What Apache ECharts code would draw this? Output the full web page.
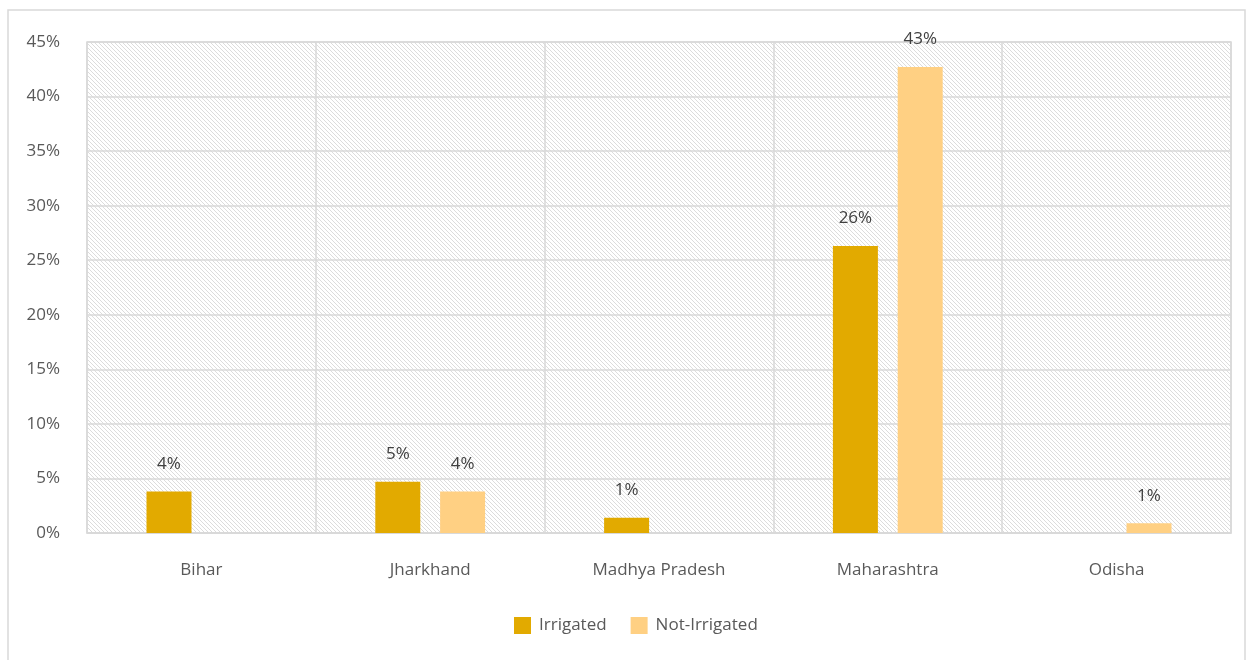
<!DOCTYPE html>
<html><head><meta charset="utf-8">
<script src="https://cdn.jsdelivr.net/npm/echarts@6/dist/echarts.min.js"></script>
<style>html,body{margin:0;padding:0;background:#fff}#c{width:1252px;height:660px}</style>
</head><body><div id="c"></div>
<script>
const categories = ['Bihar', 'Jharkhand', 'Madhya Pradesh', 'Maharashtra', 'Odisha'];
const irrigated = [3.8, 4.7, 1.4, 26.3, null];
const notIrrigated = [null, 3.8, null, 42.7, 0.9];
const yTicks = [0, 5, 10, 15, 20, 25, 30, 35, 40, 45];

const pc = document.createElement('canvas');
pc.width = 4; pc.height = 4;
const g = pc.getContext('2d');
g.fillStyle = '#ffffff'; g.fillRect(0,0,4,4);
g.fillStyle = '#dcdcdc';
for (let i = 0; i < 4; i++) { g.fillRect(i, i, 1, 1); }

const font = "'Open Sans', 'Noto Sans', sans-serif";
const chart = echarts.init(document.getElementById('c'));
chart.setOption({
  animation: false,
  textStyle: {fontFamily: font},
  graphic: [{type: 'rect', shape: {x: 8, y: 10, width: 1237, height: 660}, style: {fill: 'none', stroke: '#d9d9d9', lineWidth: 1.5}, silent: true}],
  grid: {left: 87, right: 21, top: 42, bottom: 127, show: true, backgroundColor: {image: pc, repeat: 'repeat'}, borderColor: '#d9d9d9', borderWidth: 1.5},
  legend: {bottom: 21, left: 509, itemWidth: 17, itemHeight: 17, itemGap: 24, icon: 'rect',
    textStyle: {fontSize: 17, color: '#595959', fontFamily: font, padding: [0, 0, 0, 3]}},
  xAxis: {type: 'category', data: categories,
    axisLine: {lineStyle: {color: '#d9d9d9', width: 1.5}}, axisTick: {show: false},
    splitLine: {show: true, lineStyle: {color: '#d9d9d9', width: 1.5}},
    axisLabel: {fontSize: 17, color: '#595959', margin: 29, fontFamily: font}},
  yAxis: {type: 'value', min: 0, max: 45, interval: 5,
    axisLine: {show: false}, axisTick: {show: false},
    splitLine: {lineStyle: {color: '#d9d9d9', width: 1.5}},
    axisLabel: {fontSize: 17, color: '#595959', margin: 27, fontFamily: font,
      formatter: v => yTicks.includes(v) ? v + '%' : ''}},
  series: [
    {name: 'Irrigated', type: 'bar', data: irrigated, barWidth: 45, barGap: '44%',
     itemStyle: {color: '#e2aa00'},
     label: {show: true, position: 'top', distance: 19, fontSize: 17, color: '#404040', fontFamily: font,
       formatter: p => Math.round(p.value) + '%'}},
    {name: 'Not-Irrigated', type: 'bar', data: notIrrigated, barWidth: 45,
     itemStyle: {color: '#ffd083'},
     label: {show: true, position: 'top', distance: 19, fontSize: 17, color: '#404040', fontFamily: font,
       formatter: p => Math.round(p.value) + '%'}}
  ]
});
</script></body></html>
